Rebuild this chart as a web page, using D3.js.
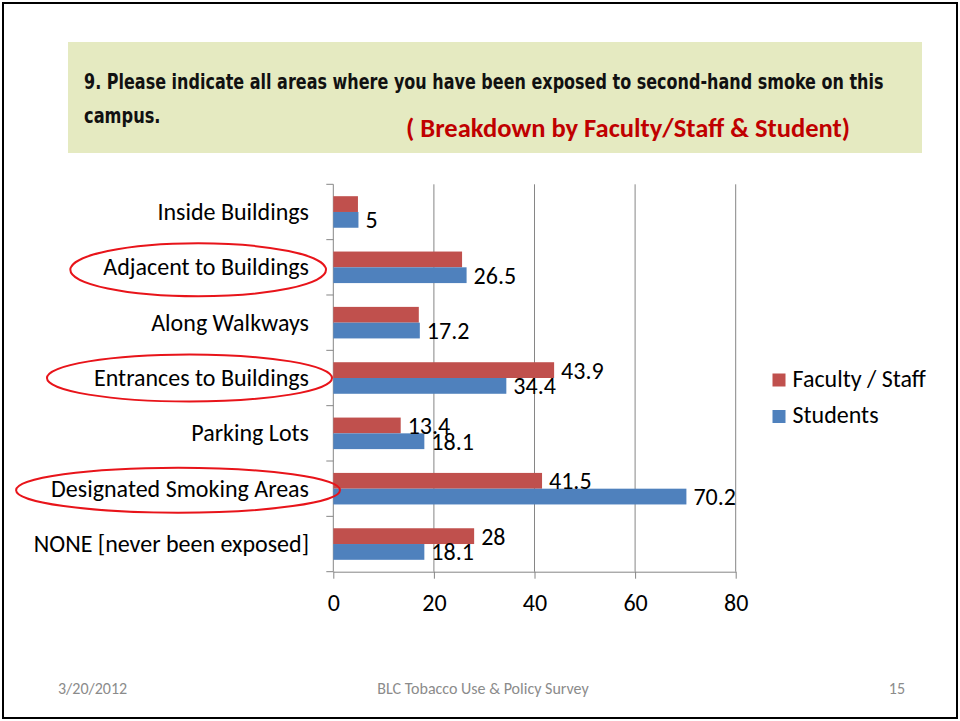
<!DOCTYPE html>
<html>
<head>
<meta charset="utf-8">
<script src="https://cdn.jsdelivr.net/npm/d3@7"></script>
<style>
  html, body { margin: 0; padding: 0; background: #fff; }
  svg { display: block; }
  .cal { font-family: Carlito, Calibri, Lato, "Open Sans", sans-serif; }
</style>
</head>
<body>
<svg id="chart" width="960" height="721"></svg>
<script>
// ---------- data ----------
const categories = [
  "Inside Buildings",
  "Adjacent to Buildings",
  "Along Walkways",
  "Entrances to Buildings",
  "Parking Lots",
  "Designated Smoking Areas",
  "NONE [never been exposed]"
];
const seriesNames = ["Faculty / Staff", "Students"];
const facultyValues = [4.9, 25.6, 17.0, 43.9, 13.4, 41.5, 28];
const studentValues = [5, 26.5, 17.2, 34.4, 18.1, 70.2, 18.1];
// labels shown in the original (null = no label drawn)
const facultyLabels = [null, null, null, "43.9", "13.4", "41.5", "28"];
const studentLabels = ["5", "26.5", "17.2", "34.4", "18.1", "70.2", "18.1"];
const xTicks = [0, 20, 40, 60, 80];
// hand-drawn highlight ellipses: category, padding left/right of label, vertical radius, vertical shift
const highlightCats = ["Adjacent to Buildings", "Entrances to Buildings", "Designated Smoking Areas"];
const highlightPadL = [33, 47, 35];
const highlightPadR = [17, 23, 31];
const highlightRy = [26.5, 23.5, 22.5];
const highlightDy = [2.5, 0, 1.5];
const titleLine1 = "9. Please indicate all areas where you have been exposed to second-hand smoke on this";
const titleLine2 = "campus.";
const subtitle = "( Breakdown by Faculty/Staff & Student)";
const footerLeft = "3/20/2012";
const footerCenter = "BLC Tobacco Use & Policy Survey";
const footerRight = "15";

const colors = { "Faculty / Staff": "#c0504d", "Students": "#4f81bd" };

const svg = d3.select("#chart");

// slide border
svg.append("rect").attr("x", 3).attr("y", 3).attr("width", 954).attr("height", 715)
  .attr("fill", "#fff").attr("stroke", "#000").attr("stroke-width", 2);

// title box
svg.append("rect").attr("x", 68).attr("y", 42).attr("width", 854).attr("height", 111)
  .attr("fill", "#e5eac1");
const narrow = "'Liberation Sans Narrow', 'Arial Narrow', 'DejaVu Sans Condensed', sans-serif";
function condensedText(txt, tx, ty, targetW) {
  const t = svg.append("text")
    .attr("font-family", narrow).attr("font-weight", "bold").attr("font-size", 21)
    .attr("fill", "#111").text(txt);
  const w = t.node().getComputedTextLength();
  const sx = targetW ? targetW / w : 0.86;
  t.attr("transform", `translate(${tx},${ty}) scale(${sx},1)`);
  return t;
}
condensedText(titleLine1, 84, 89, 800);
condensedText(titleLine2, 84, 123, null);

svg.append("text").attr("class", "cal").attr("x", 406).attr("y", 136.5)
  .attr("font-weight", "bold").attr("font-size", 26).attr("fill", "#c00000")
  .attr("textLength", 444).attr("lengthAdjust", "spacingAndGlyphs")
  .text(subtitle);

// ---------- scales ----------
const x = d3.scaleLinear().domain([0, 80]).range([333.3, 735.7]);
const y = d3.scaleBand().domain(categories).range([184.3, 571.7])
  .paddingInner(0.43).paddingOuter(0.215);
const ySub = d3.scaleBand().domain(seriesNames).range([0, y.bandwidth()]);

const [y0, y1] = y.range();
const step = y.step();
const FS = 24;

// gridlines
const grid = svg.append("g");
grid.selectAll("line").data(xTicks.filter(t => t !== 0)).join("line")
  .attr("x1", d => x(d)).attr("x2", d => x(d))
  .attr("y1", y0).attr("y2", y1)
  .attr("stroke", "#868686").attr("stroke-width", 1);

// x axis
const xAxis = d3.axisBottom(x).tickValues(xTicks).tickSize(7).tickSizeOuter(0).tickPadding(15)
  .tickFormat(d3.format("d"));
const gx = svg.append("g").attr("transform", `translate(0,${y1})`).call(xAxis);
gx.select(".domain").attr("stroke", "#868686");
gx.selectAll(".tick line").attr("stroke", "#868686");
gx.selectAll(".tick text").attr("class", "cal").attr("font-size", FS).attr("fill", "#000");

// y axis line + boundary ticks
svg.append("line").attr("x1", x(0)).attr("x2", x(0)).attr("y1", y0).attr("y2", y1)
  .attr("stroke", "#868686");
const boundaries = d3.range(categories.length + 1).map(i => y0 + i * step);
svg.append("g").selectAll("line").data(boundaries).join("line")
  .attr("x1", x(0) - 7).attr("x2", x(0)).attr("y1", d => d).attr("y2", d => d)
  .attr("stroke", "#868686");

// category labels
const catLabels = svg.append("g").selectAll("text").data(categories).join("text")
  .attr("class", "cal")
  .attr("x", 309).attr("y", d => y(d) + y.bandwidth() / 2 + 8)
  .attr("text-anchor", "end").attr("font-size", FS).attr("fill", "#000")
  .text(d => d);

// bars
const rows = categories.map((c, i) => ({
  cat: c,
  vals: [
    { s: "Faculty / Staff", v: facultyValues[i], label: facultyLabels[i] },
    { s: "Students", v: studentValues[i], label: studentLabels[i] }
  ]
}));
const groups = svg.append("g").selectAll("g").data(rows).join("g")
  .attr("transform", d => `translate(0,${y(d.cat)})`);
groups.selectAll("rect").data(d => d.vals).join("rect")
  .attr("x", x(0)).attr("y", d => ySub(d.s))
  .attr("width", d => x(d.v) - x(0)).attr("height", ySub.bandwidth())
  .attr("fill", d => colors[d.s]);
groups.selectAll("text").data(d => d.vals.filter(v => v.label !== null)).join("text")
  .attr("class", "cal")
  .attr("x", d => x(d.v) + 7).attr("y", d => ySub(d.s) + ySub.bandwidth() / 2 + 8.5)
  .attr("font-size", FS).attr("fill", "#000")
  .text(d => d.label);

// highlight ellipses around labels
catLabels.each(function(d) {
  const k = highlightCats.indexOf(d);
  if (k < 0) return;
  const bb = this.getBBox();
  const left = bb.x - highlightPadL[k], right = bb.x + bb.width + highlightPadR[k];
  svg.append("ellipse")
    .attr("cx", (left + right) / 2).attr("cy", y(d) + y.bandwidth() / 2 + highlightDy[k])
    .attr("rx", (right - left) / 2).attr("ry", highlightRy[k])
    .attr("fill", "none").attr("stroke", "#e8141a").attr("stroke-width", 2);
});

// legend
const legend = svg.append("g").selectAll("g").data(seriesNames).join("g")
  .attr("transform", (d, i) => `translate(772.5,${373.5 + i * 36.5})`);
legend.append("rect").attr("width", 13).attr("height", 13).attr("fill", d => colors[d]);
legend.append("text").attr("class", "cal").attr("x", 20).attr("y", 13)
  .attr("font-size", FS).attr("fill", "#000").text(d => d);

// footer
const foot = svg.append("g").attr("class", "cal").attr("font-size", 16).attr("fill", "#8b8b8b");
foot.append("text").attr("x", 58).attr("y", 694).text(footerLeft);
foot.append("text").attr("x", 483).attr("y", 694).attr("text-anchor", "middle").text(footerCenter);
foot.append("text").attr("x", 905).attr("y", 694).attr("text-anchor", "end").text(footerRight);
</script>
</body>
</html>
